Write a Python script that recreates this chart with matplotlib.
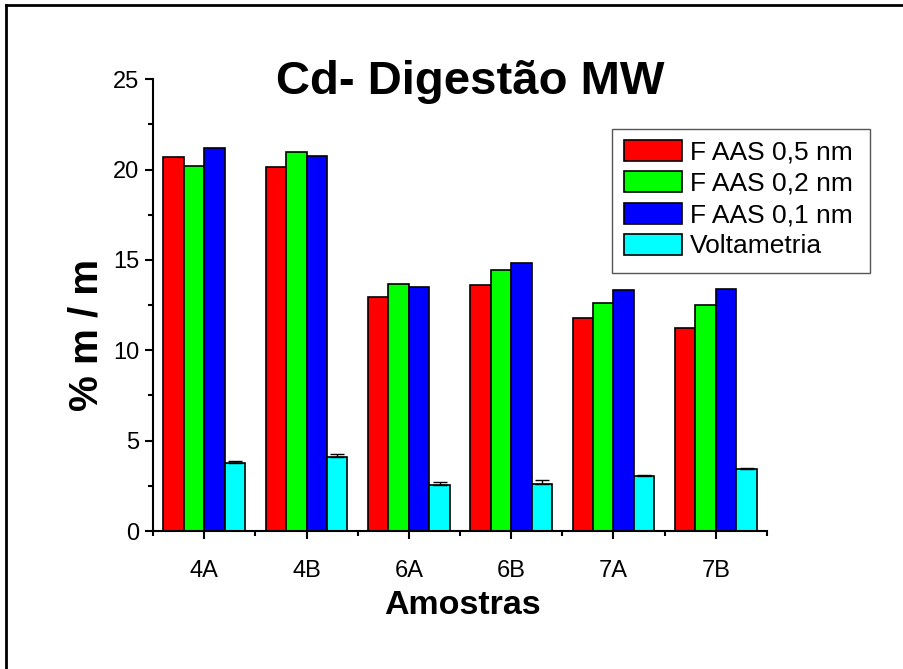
import matplotlib
matplotlib.use("Agg")
from matplotlib import pyplot as plt
from matplotlib.patches import Rectangle
from matplotlib.lines import Line2D
from matplotlib.ticker import MultipleLocator, FixedLocator
import numpy as np

plt.rcParams['font.family'] = ['Liberation Sans', 'DejaVu Sans']

# dados
amostras = ["4A", "4B", "6A", "6B", "7A", "7B"]
faas_05 = [20.71, 20.13, 12.97, 13.60, 11.80, 11.25]
faas_02 = [20.22, 20.99, 13.65, 14.46, 12.63, 12.49]
faas_01 = [21.18, 20.77, 13.49, 14.85, 13.35, 13.41]
voltametria = [3.76, 4.08, 2.53, 2.58, 3.06, 3.41]
voltametria_err = [0.11, 0.16, 0.18, 0.24, 0.06, 0.09]

series = [faas_05, faas_02, faas_01, voltametria]
labels = ["F AAS 0,5 nm", "F AAS 0,2 nm", "F AAS 0,1 nm", "Voltametria"]
cores = ["#FF0000", "#00FF00", "#0000FF", "#00FFFF"]

W, H = 904, 669
fig = plt.figure(figsize=(W / 100, H / 100), dpi=100)
ax = fig.add_axes([153 / W, 1 - 531 / H, 614 / W, (531 - 79.3) / H])

x = np.arange(1, len(amostras) + 1)
w = 0.2
offsets = [-0.3, -0.1, 0.1, 0.3]
for s, lab, cor, off in zip(series, labels, cores, offsets):
    ax.bar(x + off, s, width=w, color=cor, edgecolor="black", linewidth=1.2, label=lab)

# barras de erro so na voltametria
ax.errorbar(x + 0.3, voltametria, yerr=[np.zeros(len(voltametria)), voltametria_err],
            fmt="none", ecolor="black", elinewidth=1, capsize=5, capthick=1)

ax.set_xlim(0.5, 6.5)
ax.set_ylim(0, 25)
ax.set_xticks(x)
ax.set_xticklabels(amostras)
ax.xaxis.set_minor_locator(FixedLocator(np.arange(0.5, 7, 1)))
ax.yaxis.set_major_locator(MultipleLocator(5))
ax.yaxis.set_minor_locator(MultipleLocator(2.5))

for lado in ["top", "right"]:
    ax.spines[lado].set_visible(False)
for lado in ["left", "bottom"]:
    ax.spines[lado].set_linewidth(1.5)

ax.tick_params(axis="both", which="major", direction="out", length=6, width=1.5, labelsize=17)
ax.tick_params(axis="both", which="minor", direction="out", length=3.5, width=1.5)
ax.tick_params(axis="x", which="major", pad=15)
ax.tick_params(axis="y", which="major", pad=4)

# titulos
fig.text(470 / W, 1 - 82 / H, "Cd- Digestão MW", fontsize=34, fontweight="bold",
         ha="center", va="center")
fig.text(462 / W, 1 - 606 / H, "Amostras", fontsize=24.5, fontweight="bold",
         ha="center", va="center")
fig.text(87 / W, 1 - 335 / H, "% m / m", fontsize=29, fontweight="bold",
         ha="center", va="center", rotation=90)

# legenda sem moldura; a moldura vai desenhada a parte
leg = ax.legend(loc="upper left", bbox_to_anchor=(624 / W, 1 - 140 / H),
                bbox_transform=fig.transFigure, borderaxespad=0, fontsize=19,
                frameon=False, handlelength=2.2, handleheight=0.85,
                handletextpad=0.3, labelspacing=0.25, borderpad=0)
fig.patches.append(Rectangle((612 / W, 1 - 273 / H), 258 / W, 144 / H,
                             transform=fig.transFigure, fill=False,
                             edgecolor="#555555", linewidth=1))

# moldura externa (so esquerda e topo aparecem)
fig.add_artist(Line2D([6 / W, 6 / W], [-0.1, 1 - 5 / H], color="black", linewidth=2))
fig.add_artist(Line2D([6 / W, 1.1], [1 - 5 / H, 1 - 5 / H], color="black", linewidth=2))

fig.savefig("out.png", dpi=100)
